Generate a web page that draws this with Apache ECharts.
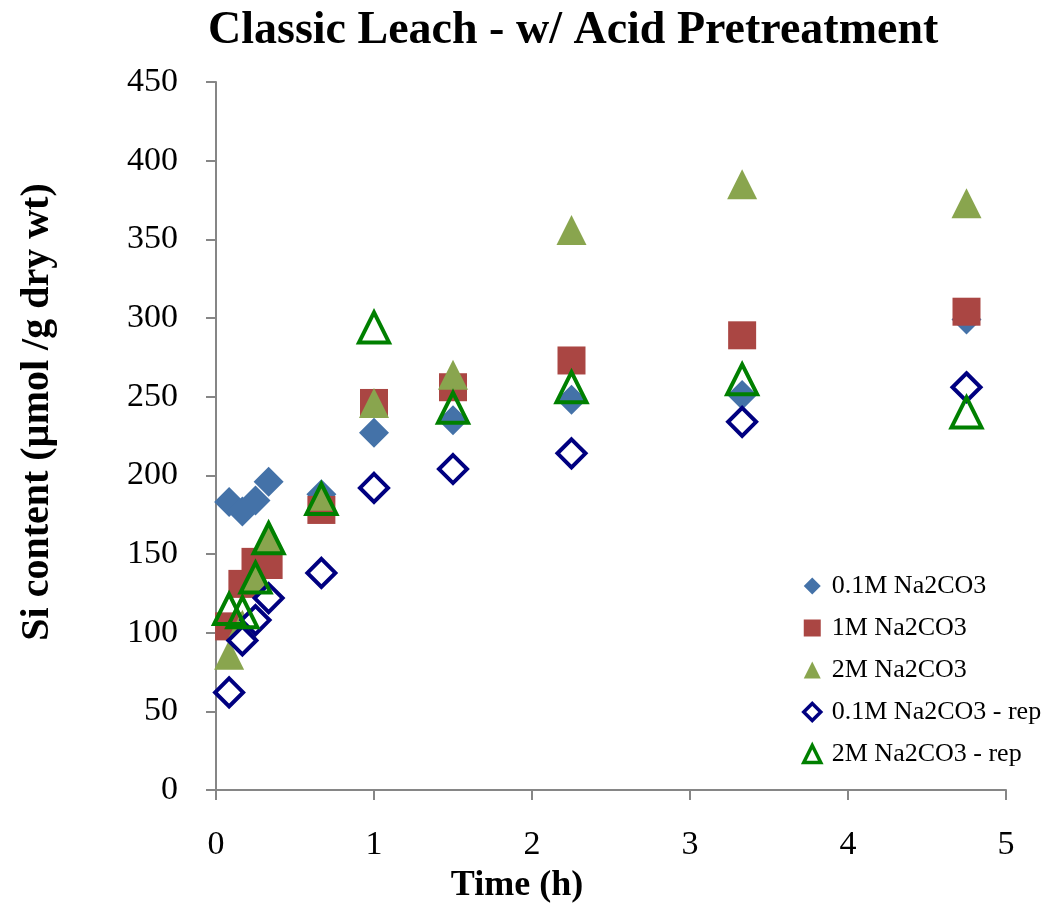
<html lang="en">
<head>
    <meta charset="UTF-8">
    <title>Classic Leach</title>
    <script type="text/javascript" src="https://cdn.jsdelivr.net/npm/echarts@6/dist/echarts.min.js"></script>
    <style>
        body { margin: 0; background: #fff; }
        #chart { width: 1059px; height: 903px; }
    </style>
</head>
<body>
<div id="chart"></div>
<script>
    // time in hours
    var time = [0.083, 0.167, 0.25, 0.333, 0.667, 1, 1.5, 2.25, 3.33, 4.75];
    var na01 = [183, 177, 184, 196, 188, 227, 235, 248, 251, 299];
    var na1 = [104, 131, 145, 143, 178, 246, 256, 273, 289, 304];
    var na2 = [86, 105, 135, 160, 187, 246, 264, 356, 385, 373];
    var na01rep = [62, 95, 108, 122, 138, 192, 204, 214, 234, 256];
    var na2rep = [115, 113, 135, 160, 185, 294, 243, 256, 261, 240];
    var names = ['0.1M Na2CO3', '1M Na2CO3', '2M Na2CO3', '0.1M Na2CO3 - rep', '2M Na2CO3 - rep'];

    function pairs(ys) {
        var out = [];
        for (var i = 0; i < time.length; i++) {
            out.push([time[i], ys[i]]);
        }
        return out;
    }

    var font = '"Liberation Serif", "DejaVu Serif", serif';
    var axisGray = '#868686';

    var mychart = echarts.init(document.getElementById('chart'));
    var option = {
        animation: false,
        title: {
            text: 'Classic Leach - w/ Acid Pretreatment',
            left: 203,
            top: 3,
            textStyle: { fontFamily: font, fontSize: 46, fontWeight: 'bold', color: '#000' }
        },
        grid: { left: 216, right: 53, top: 82, bottom: 113, containLabel: false, outerBoundsMode: 'none' },
        legend: {
            orient: 'vertical',
            left: 797,
            top: 568,
            itemGap: 16,
            itemWidth: 17,
            itemHeight: 17,
            textStyle: { fontFamily: font, fontSize: 26, color: '#000', padding: [0, 0, 0, 6] },
            data: [
                names[0],
                names[1],
                names[2],
                { name: names[3], itemStyle: { borderWidth: 3.5 } },
                { name: names[4], itemStyle: { borderWidth: 3.5 } }
            ]
        },
        xAxis: {
            type: 'value',
            min: 0, max: 5, interval: 1,
            name: 'Time (h)',
            nameLocation: 'middle',
            nameGap: 78,
            nameTextStyle: { fontFamily: font, fontSize: 36, fontWeight: 'bold', color: '#000', padding: [0, 188, 0, 0] },
            axisLine: { lineStyle: { color: axisGray, width: 2 } },
            axisTick: { show: true, length: 10, lineStyle: { color: axisGray, width: 2 } },
            axisLabel: { fontFamily: font, fontSize: 34, color: '#000', margin: 38 },
            splitLine: { show: false }
        },
        yAxis: {
            type: 'value',
            min: 0, max: 450, interval: 50,
            name: 'Si content (µmol /g dry wt)',
            nameLocation: 'middle',
            nameGap: 158,
            nameTextStyle: { fontFamily: font, fontSize: 40, fontWeight: 'bold', color: '#000', padding: [0, 0, 0, 48] },
            axisLine: { show: true, lineStyle: { color: axisGray, width: 2 } },
            axisTick: { show: true, length: 10, lineStyle: { color: axisGray, width: 2 } },
            axisLabel: { fontFamily: font, fontSize: 34, color: '#000', margin: 38 },
            splitLine: { show: false }
        },
        series: [
            {
                name: names[0], type: 'scatter', symbol: 'diamond', symbolSize: 30,
                itemStyle: { color: '#4472A8', opacity: 1 },
                data: pairs(na01)
            },
            {
                name: names[1], type: 'scatter', symbol: 'rect', symbolSize: 28,
                itemStyle: { color: '#AA4643', opacity: 1 },
                data: pairs(na1)
            },
            {
                name: names[2], type: 'scatter', symbol: 'triangle', symbolSize: 30,
                itemStyle: { color: '#89A54E', opacity: 1 },
                data: pairs(na2)
            },
            {
                name: names[3], type: 'scatter', symbol: 'diamond', symbolSize: 28,
                itemStyle: { color: '#fff', borderColor: '#000080', borderWidth: 4, opacity: 1 },
                data: pairs(na01rep)
            },
            {
                name: names[4], type: 'scatter', symbol: 'triangle', symbolSize: 30,
                itemStyle: { color: 'rgba(0,0,0,0)', borderColor: '#008000', borderWidth: 4, opacity: 1 },
                data: pairs(na2rep)
            }
        ]
    };
    mychart.setOption(option);
</script>
</body>
</html>
